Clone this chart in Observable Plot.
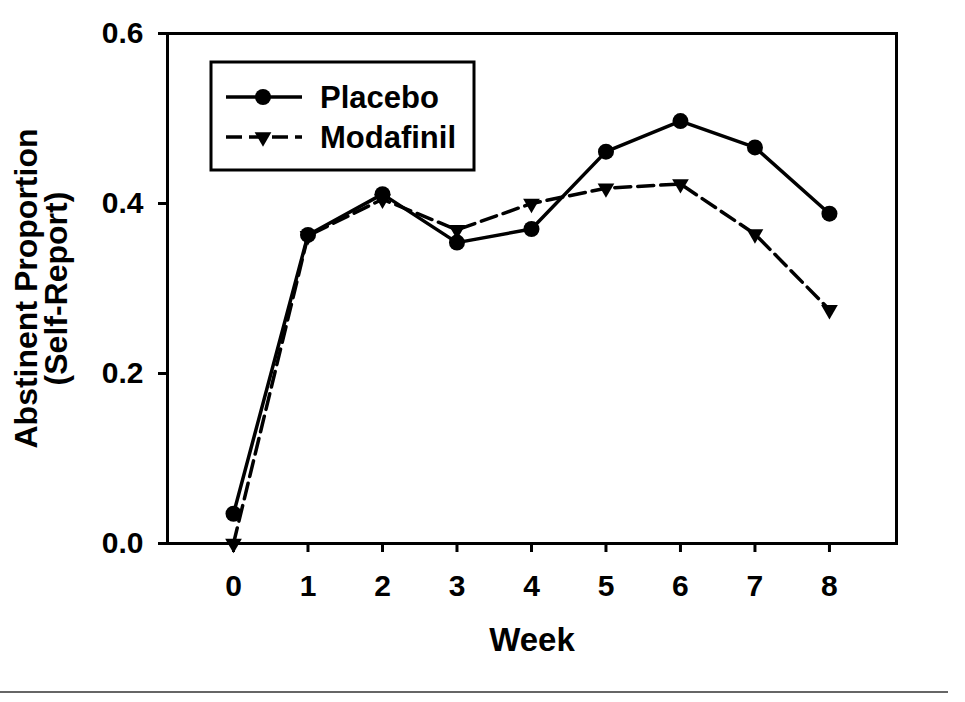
<!DOCTYPE html>
<html>
<head>
<meta charset="utf-8">
<script src="https://cdn.jsdelivr.net/npm/d3@7"></script>
<script src="https://cdn.jsdelivr.net/npm/@observablehq/plot@0.6"></script>
<style>
  html, body { margin: 0; padding: 0; background: #fff; }
  #chart svg { display: block; }
</style>
</head>
<body>
<div id="chart"></div>
<script>
const weeks = [0, 1, 2, 3, 4, 5, 6, 7, 8];
const placebo = [0.035, 0.363, 0.411, 0.354, 0.370, 0.461, 0.497, 0.466, 0.388];
const modafinil = [0.0, 0.362, 0.405, 0.369, 0.400, 0.418, 0.423, 0.364, 0.275];
const yTicks = [0, 0.2, 0.4, 0.6];
const xTicks = [0, 1, 2, 3, 4, 5, 6, 7, 8];
const seriesNames = ["Placebo", "Modafinil"];
const yTitle = "Abstinent Proportion\n(Self-Report)";
const xTitle = "Week";

const pData = weeks.map((w, i) => ({week: w, value: placebo[i]}));
const mData = weeks.map((w, i) => ({week: w, value: modafinil[i]}));

const FONT = "'Liberation Sans', Arial, Helvetica, sans-serif";
const DASH = "16,7";
const TRI_R = 6.2;

const chart = Plot.plot({
  width: 965,
  height: 702,
  marginLeft: 167,
  marginRight: 69,
  marginTop: 33,
  marginBottom: 159,
  style: {fontFamily: FONT, background: "#fff", color: "#000", overflow: "visible"},
  x: {domain: [-0.886, 8.9]},
  y: {domain: [0, 0.6]},
  marks: [
    Plot.axisX({ticks: xTicks, tickFormat: d3.format("d"), tickSize: 9, tickPadding: 22, strokeWidth: 3, fontSize: 30, fontWeight: "bold", label: null}),
    Plot.axisY({ticks: yTicks, tickFormat: d3.format(".1f"), tickSize: 9, tickPadding: 15, strokeWidth: 3, fontSize: 30, fontWeight: "bold", label: null}),
    Plot.frame({stroke: "#000", strokeWidth: 3}),
    Plot.line(pData, {x: "week", y: "value", stroke: "#000", strokeWidth: 3.5}),
    Plot.line(mData, {x: "week", y: "value", stroke: "#000", strokeWidth: 3.5, strokeDasharray: DASH}),
    Plot.dot(pData, {x: "week", y: "value", r: 8, fill: "#000", stroke: null}),
    Plot.dot(mData, {x: "week", y: "value", symbol: "triangle", rotate: 180, r: TRI_R, fill: "#000", stroke: null}),
    Plot.text([yTitle], {frameAnchor: "left", textAnchor: "middle", lineAnchor: "middle", rotate: -90, dx: -125, fontSize: 32, fontWeight: "bold", lineHeight: 0.92, fill: "#000"}),
    Plot.text([xTitle], {frameAnchor: "bottom", textAnchor: "middle", lineAnchor: "middle", dy: 97, fontSize: 33, fontWeight: "bold", fill: "#000"})
  ]
});

document.getElementById("chart").appendChild(chart);

// Legend (inside plot area, top-left)
const svg = d3.select(chart);
const lg = svg.append("g").attr("font-family", FONT);
lg.append("rect").attr("x", 211).attr("y", 62).attr("width", 263).attr("height", 108)
  .attr("fill", "#fff").attr("stroke", "#000").attr("stroke-width", 3);
const rows = [
  {name: seriesNames[0], y: 97, dash: null, sym: "circle"},
  {name: seriesNames[1], y: 137, dash: DASH, sym: "tri"}
];
rows.forEach(r => {
  lg.append("line").attr("x1", 226).attr("x2", 302).attr("y1", r.y).attr("y2", r.y)
    .attr("stroke", "#000").attr("stroke-width", 3.5).attr("stroke-dasharray", r.dash);
  if (r.sym === "circle") {
    lg.append("circle").attr("cx", 263).attr("cy", r.y).attr("r", 8).attr("fill", "#000");
  } else {
    lg.append("path").attr("d", d3.symbol(d3.symbolTriangle, Math.PI * TRI_R * TRI_R)())
      .attr("transform", `translate(263,${r.y}) rotate(180)`).attr("fill", "#000");
  }
  lg.append("text").attr("x", 320).attr("y", r.y).attr("dy", "0.36em")
    .attr("text-anchor", "start")
    .attr("font-size", 31).attr("font-weight", "bold").attr("fill", "#000").text(r.name);
});

// bottom rule
svg.append("line").attr("x1", 0).attr("x2", 948).attr("y1", 692).attr("y2", 692)
  .attr("stroke", "#666").attr("stroke-width", 2);
</script>
</body>
</html>
